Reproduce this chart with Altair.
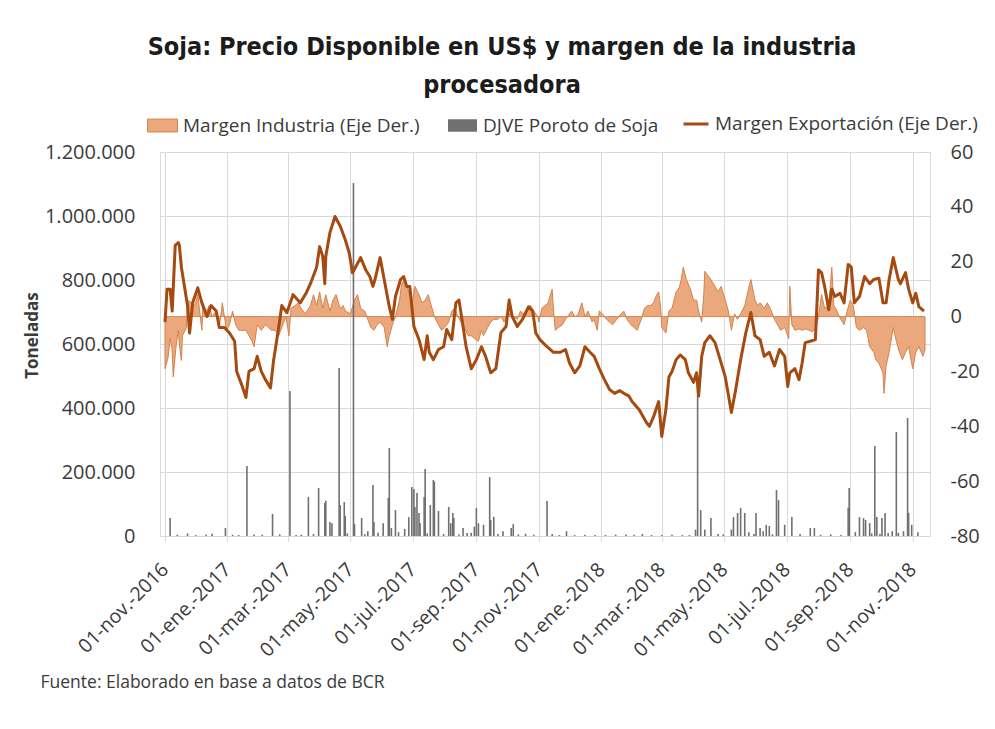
import altair as alt
import pandas as pd

INICIO = "2016-11-01"

S_IND = "Margen Industria (Eje Der.)"
S_DJVE = "DJVE Poroto de Soja"
S_EXP = "Margen Exportación (Eje Der.)"

# Margen Exportación (Eje Der.): días desde 01-nov-2016 y valor (US$/t)
exp_dias = [0, 2, 5, 7, 10, 13, 14, 16, 19, 22, 24, 27, 32, 36, 39, 41, 45, 50, 53, 58,
            63, 68, 70, 75, 79, 82, 87, 90, 94, 98, 103, 106, 111, 114, 119, 125, 132, 138, 142, 148,
            151, 154, 156, 157, 161, 166, 171, 176, 180, 183, 186, 191, 196, 200, 203, 205, 210, 214, 219, 222,
            225, 230, 233, 236, 239, 243, 248, 253, 256, 258, 262, 267, 272, 275, 280, 284, 287, 291, 294, 299,
            304, 309, 313, 318, 323, 328, 333, 336, 339, 344, 349, 355, 359, 362, 366, 373, 379, 386, 391, 395,
            400, 405, 410, 415, 419, 424, 429, 434, 439, 444, 448, 453, 456, 463, 470, 473, 477, 482, 485, 489,
            492, 495, 499, 503, 508, 511, 516, 519, 521, 524, 527, 532, 537, 542, 547, 553, 557, 562, 567, 572,
            576, 581, 585, 590, 595, 600, 605, 608, 610, 615, 619, 622, 625, 630, 635, 638, 641, 644, 648, 651,
            654, 659, 663, 667, 670, 673, 678, 683, 688, 692, 697, 701, 704, 707, 711, 716, 718, 723, 726, 730,
            733, 736, 741]
exp_vals = [-2, 10, 10, 2, 26, 27, 26, 18, 11, 4, -6, 5, 10.5, 5, 2, 0, 4, 2, -4, -4,
            -6, -9, -20, -25, -29.5, -20, -19, -14.5, -20, -23, -26, -16, -4, 4, 1.4, 8, 5, 8.7, 12, 18,
            25.5, 22, 12, 22, 30.6, 36.5, 33, 28, 23, 16, 18, 21.5, 17, 14.6, 11, 13.5, 21.5, 13.5, 3.6, -1,
            7.3, 13.5, 14.6, 11, 11, -3.6, -8.4, -15.7, -7, -13, -15.7, -12, -11, -4.7, -8.4, 5, 6, -3.6, -11, -19,
            -15.7, -11, -14.5, -20.5, -19, -5.8, -3.6, 6, 0, -3.6, -1, 3.6, 2, -6, -8.4, -11, -13, -13, -12, -17,
            -20.5, -18, -11, -13, -14.5, -19, -23, -26.6, -28, -27, -28, -29, -31, -34, -38.6, -40, -36.5, -31, -43.7, -34,
            -22, -20, -15.7, -14, -15.7, -20.5, -24, -20.5, -29, -14.5, -9.5, -7, -9.5, -15.7, -22, -35, -27, -15.7, -6, 1.5,
            -7, -8.4, -14.5, -13, -18, -12, -14.5, -25.5, -20.5, -19, -23, -17, -9.5, -9, -8.4, 17, 16, 11, 2.5, 10,
            7.3, 8.5, 5, 19, 18, 5, 7.3, 14.6, 12, 13.5, 14, 5, 5, 13.5, 21.5, 13.5, 12, 16, 10, 5,
            8.5, 3.6, 2]

# Margen Industria (Eje Der.): días desde 01-nov-2016 y valor (US$/t)
ind_dias = [0, 3, 5, 7, 8, 11, 13, 14, 16, 17, 21, 22, 26, 29, 32, 36, 37, 41, 43, 46,
            50, 53, 56, 60, 63, 66, 69, 72, 75, 79, 82, 85, 87, 90, 94, 98, 101, 104, 108, 111,
            114, 118, 121, 123, 127, 130, 133, 137, 142, 145, 148, 151, 154, 157, 161, 164, 167, 171, 174, 176,
            181, 185, 188, 191, 195, 198, 201, 204, 207, 210, 214, 217, 219, 222, 225, 229, 231, 234, 238, 241,
            244, 248, 251, 254, 257, 260, 263, 267, 270, 273, 277, 280, 283, 286, 289, 292, 296, 299, 302, 306,
            309, 311, 315, 318, 321, 325, 328, 331, 335, 338, 340, 344, 347, 350, 354, 357, 360, 364, 365, 368,
            371, 374, 378, 379, 381, 384, 388, 391, 393, 397, 400, 403, 407, 410, 413, 417, 419, 422, 424, 427,
            431, 434, 437, 441, 444, 448, 451, 455, 458, 461, 465, 468, 471, 474, 477, 480, 482, 484, 485, 487,
            489, 492, 495, 499, 502, 504, 506, 509, 513, 516, 519, 521, 524, 526, 527, 530, 533, 537, 540, 543,
            547, 550, 553, 556, 559, 562, 566, 569, 572, 576, 579, 581, 585, 588, 591, 595, 598, 601, 605, 608,
            609, 610, 612, 615, 619, 622, 625, 629, 632, 635, 638, 641, 644, 648, 651, 653, 656, 659, 663, 666,
            669, 672, 675, 678, 682, 685, 688, 692, 694, 697, 701, 702, 704, 707, 711, 714, 717, 720, 723, 726,
            730, 733, 736, 740, 742]
ind_vals = [-19, -15, -8, -12, -22, -10, -5, -10, -16, -7, -4, 6, 5, 4, 8, -5, 4, 2, 4, 0,
            2, -4, 5, -5, -3, 2, -3, -5, -5, -5, -7, -9, -11, -3, -5, -3, -4, -5, -5, -7,
            -4, 0, -7, 3, 4, 5, 3, 1, 4, 8, 4, 9, 3, 8, 2, 6, 8, 3, 4, 2,
            1, 6, 8, 3, 2, -1, -4, -5, -3, -2, -4, -11, -7, -3, 0, 6, 12, 13.5, 9, 4,
            11, 8, 5, 6, 8, 4, 0, -3, -5, -4, -2, 2, 3, 0, -2, -4, -7, -7, -8, -9,
            -5, -7, -4, -2, -1, -1, 0, -2, 0, 2, 0, -1, 2, 1, 3, 4, 2, 0, -2, 3,
            4, 5, 10, 4, -5, -4, -3, -1, 0, 2, 0, 0.5, 5, 0, 2, -2, -1, -5, 2, 1,
            -1, -2, -3, -1, 0.5, 2, -1, -3, -4, -5, -1, 3, 4, 4, 5, 8, 9, 3, -4, -5,
            -6, 2, 3, 9, 10.5, 13.5, 18, 13.5, 10, 6, 6, 2, -2, 8, 16.5, 15, 13.5, 11, 9, 11,
            6, 2, -5, 1, -1, 1, 4, 9, 13.5, 6, 4, 5, 3, 5, 3, -1, -3, -5, -4, -7,
            -8, 11, -3, -5, -4.5, -5, -4.5, -5, -5.5, -4.5, 0, 8, 3, 4, 18, 4, 2, -0.5, -3, 2,
            6, 4, -4, -5, -4, -5, -11, -13, -15.7, -17, -20.5, -28, -18, -13, -4, -9, -13, -15.7, -13, -11,
            -19, -13, -11, -14.5, -12]

# DJVE Poroto de Soja: días desde 01-nov-2016 y toneladas
djve_dias = [5, 12, 22, 30, 40, 46, 59, 66, 72, 80, 87, 95, 105, 112, 122, 128, 133, 140, 145, 150,
             156, 157, 161, 163, 170, 171, 175, 176, 178, 184, 185, 192, 195, 198, 203, 204, 208, 213, 218, 219,
             221, 225, 228, 234, 238, 241, 243, 244, 246, 248, 249, 253, 254, 256, 259, 262, 263, 267, 272, 277,
             279, 281, 282, 287, 291, 295, 299, 302, 304, 306, 311, 317, 318, 321, 325, 330, 338, 340, 345, 352,
             360, 373, 378, 385, 392, 400, 410, 420, 430, 440, 450, 458, 466, 475, 485, 495, 505, 512, 518, 520,
             523, 527, 533, 540, 545, 553, 555, 559, 562, 566, 570, 575, 577, 581, 584, 587, 590, 593, 597, 599,
             605, 612, 620, 630, 634, 640, 650, 660, 667, 668, 674, 678, 682, 684, 688, 690, 693, 695, 698, 700,
             703, 706, 710, 714, 716, 721, 725, 726, 729, 735]
djve_tons = [56000, 4000, 8000, 3000, 5000, 7000, 25000, 4000, 3000, 219000, 5000, 4000, 69000, 5000, 453000, 3000, 4000, 122000, 6000, 150000,
             103000, 110000, 44000, 40000, 525000, 97000, 106000, 63000, 8000, 1103000, 38000, 56000, 6000, 15000, 159000, 44000, 10000, 40000, 119000, 275000,
             25000, 81000, 12000, 22000, 59000, 153000, 147000, 91000, 134000, 72000, 40000, 122000, 209000, 8000, 97000, 175000, 170000, 78000, 6000, 91000,
             40000, 72000, 56000, 5000, 25000, 9000, 10000, 29000, 88000, 40000, 35000, 184000, 50000, 60000, 6000, 15000, 25000, 37000, 5000, 7000,
             4000, 109000, 6000, 3000, 15000, 3000, 4000, 3000, 3000, 4000, 5000, 4000, 6000, 3000, 3000, 4000, 3000, 3000, 20000, 490000,
             81000, 20000, 56000, 6000, 5000, 20000, 59000, 72000, 88000, 72000, 12000, 6000, 72000, 25000, 15000, 35000, 31000, 5000, 144000, 112000,
             35000, 59000, 6000, 25000, 25000, 4000, 5000, 3000, 88000, 150000, 12000, 59000, 56000, 50000, 40000, 8000, 281000, 59000, 6000, 56000,
             72000, 9000, 15000, 325000, 10000, 15000, 369000, 72000, 35000, 12000]

MESES = "['ene.','feb.','mar.','abr.','may.','jun.','jul.','ago.','sep.','oct.','nov.','dic.']"

C_IND = "#eaa87c"
C_IND_EDGE = "#d4834c"
C_DJVE = "#707070"
C_EXP = "#a54a10"
FONT = "Open Sans"
TXT = "#3b3b3b"


def fechas(dias):
    idx = pd.Timestamp(INICIO) + pd.to_timedelta(dias, unit="D")
    return list(idx.strftime("%Y-%m-%dT00:00:00"))


df_exp = pd.DataFrame({"fecha": fechas(exp_dias), "valor": exp_vals, "serie": S_EXP})
df_ind = pd.DataFrame({"fecha": fechas(ind_dias), "valor": ind_vals, "serie": S_IND})
df_djve = pd.DataFrame({"fecha": fechas(djve_dias), "valor": djve_tons, "serie": S_DJVE})

tick_fechas = [alt.DateTime(year=2016 + (10 + 2 * i) // 12, month=(10 + 2 * i) % 12 + 1, date=1)
               for i in range(13)]

x_axis = alt.Axis(
    values=tick_fechas,
    labelExpr="'01-' + " + MESES + "[month(datum.value)] + '-' + year(datum.value)",
    labelAngle=-45, labelAlign="right", labelBaseline="middle", labelPadding=25,
    labelOverlap=False, labelBound=False, labelFlush=False,
    labelFont=FONT, labelFontSize=19.5, labelColor=TXT,
    grid=True, gridColor="#d9d9d9", domainColor="#d9d9d9", tickColor="#d9d9d9", tickSize=5,
    title="Fuente: Elaborado en base a datos de BCR",
    titleX=-120, titleY=146, titleAlign="left", titleBaseline="middle", titleAngle=0,
    titleFont=FONT, titleFontSize=17.5, titleFontWeight="normal", titleColor=TXT,
)
x_enc = alt.X("fecha:T",
              scale=alt.Scale(domain=[alt.DateTime(year=2016, month=11, date=1),
                                      alt.DateTime(year=2018, month=11, date=13)]),
              axis=x_axis)

rect = "M-1,-0.43H1V0.43H-1Z"
leg_common = dict(title=None, orient="none", direction="horizontal", padding=0, labelOffset=5,
                  labelFont=FONT, labelFontSize=19, labelColor=TXT, labelLimit=400, legendY=-42)

right_scale = alt.Scale(domain=[-80, 60], nice=False, zero=False)

area = alt.Chart(df_ind).mark_area(stroke=C_IND_EDGE, strokeWidth=1, fillOpacity=1).encode(
    x=x_enc,
    y=alt.Y("valor:Q", scale=right_scale,
            axis=alt.Axis(orient="right", values=list(range(-80, 61, 20)), labelExpr="'' + datum.value",
                          grid=False, domain=False, ticks=False, labelPadding=20,
                          labelFont=FONT, labelFontSize=20, labelColor=TXT, title=None)),
    fill=alt.Fill("serie:N", scale=alt.Scale(domain=[S_IND], range=[C_IND]),
                  legend=alt.Legend(legendX=-13, symbolType=rect, symbolSize=900,
                                    symbolStrokeColor=C_IND_EDGE, symbolStrokeWidth=1, **leg_common)),
)

bars = alt.Chart(df_djve).mark_bar(size=1.6).encode(
    x=x_enc,
    y=alt.Y("valor:Q", scale=alt.Scale(domain=[0, 1200000], nice=False),
            axis=alt.Axis(orient="left", values=list(range(0, 1200001, 200000)),
                          labelExpr="replace(format(datum.value, ',d'), regexp(',', 'g'), '.')",
                          grid=True, gridColor="#d9d9d9", domain=False, ticks=False, labelPadding=25,
                          labelFont=FONT, labelFontSize=20, labelColor=TXT,
                          title="Toneladas", titleX=-128, titleY=183, titleAngle=-90,
                          titleAlign="center", titleBaseline="middle",
                          titleFont=FONT, titleFontSize=17, titleFontWeight="bold", titleColor=TXT)),
    color=alt.Color("serie:N", scale=alt.Scale(domain=[S_DJVE], range=[C_DJVE]),
                    legend=alt.Legend(legendX=287, symbolType=rect, symbolSize=841,
                                      symbolFillColor="#5f5f5f", **leg_common)),
)

line = alt.Chart(df_exp).mark_line(strokeWidth=3, strokeJoin="round").encode(
    x=x_enc,
    y=alt.Y("valor:Q", scale=right_scale, axis=None),
    stroke=alt.Stroke("serie:N", scale=alt.Scale(domain=[S_EXP], range=[C_EXP]),
                      legend=alt.Legend(legendX=522, symbolType="stroke", symbolSize=625,
                                        symbolStrokeWidth=3, **leg_common)),
)

chart = alt.layer(area, bars, line).resolve_scale(y="independent").properties(
    width=770, height=384,
    autosize=alt.AutoSizeParams(type="none"),
    padding={"left": 152, "top": 144, "right": 56, "bottom": 170},
    title=alt.TitleParams(
        text=["Soja: Precio Disponible en US$ y margen de la industria", "procesadora"],
        font="'DejaVu Sans Condensed', 'Liberation Sans Narrow', Roboto, sans-serif",
        fontSize=25, fontWeight="bold", color="#1c1c1c",
        anchor="middle", dx=-43, offset=12, lineHeight=38,
    ),
).configure_view(stroke=None).configure(background="white")

chart.save("out.html", embed_options={"renderer": "svg", "actions": False})
